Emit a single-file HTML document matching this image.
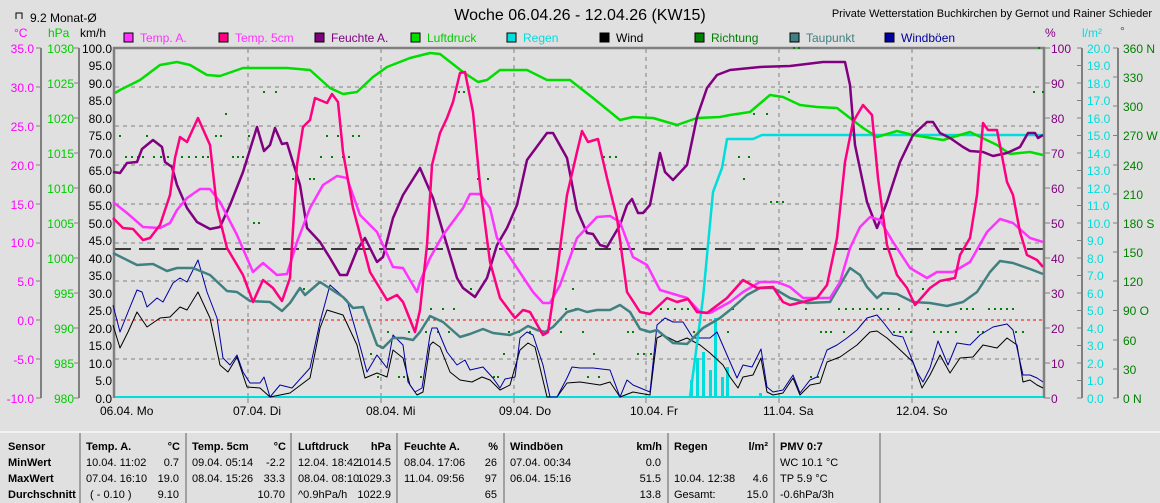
<!DOCTYPE html>
<html><head><meta charset="utf-8"><style>
html,body{margin:0;padding:0;background:#e0e0e0;}
svg{display:block;font-family:"Liberation Sans",sans-serif;}
</style></head><body>
<svg width="1160" height="503" viewBox="0 0 1160 503" xmlns="http://www.w3.org/2000/svg">
<rect width="1160" height="503" fill="#e0e0e0"/>
<!-- title -->
<text x="580" y="20" font-size="16" text-anchor="middle" fill="#000">Woche 06.04.26 - 12.04.26 (KW15)</text>
<text x="1152" y="17" font-size="11" text-anchor="end" fill="#000">Private Wetterstation Buchkirchen by Gernot und Rainer Schieder</text>
<path d="M16 19V13H22V19" fill="none" stroke="#000" stroke-width="1"/>
<text x="30" y="22" font-size="12" fill="#000">9.2 Monat-Ø</text>
<!-- axis headers -->
<text x="14" y="37" font-size="12" fill="#ff00ff">°C</text>
<text x="48" y="37" font-size="12" fill="#00cc00">hPa</text>
<text x="80" y="37" font-size="12" fill="#000">km/h</text>
<text x="1045" y="37" font-size="12" fill="#800080">%</text>
<text x="1082" y="37" font-size="12" fill="#00dddd">l/m²</text>
<text x="1120" y="35" font-size="12" fill="#008000">°</text>
<!-- legend -->
<g font-size="12">
<rect x="124" y="33" width="9" height="9" fill="#ff33ff" stroke="#000"/><text x="140" y="42" fill="#ff33ff">Temp. A.</text>
<rect x="219" y="33" width="9" height="9" fill="#ff0080" stroke="#000"/><text x="235" y="42" fill="#ff33ff">Temp. 5cm</text>
<rect x="315" y="33" width="9" height="9" fill="#800080" stroke="#000"/><text x="331" y="42" fill="#800080">Feuchte A.</text>
<rect x="411" y="33" width="9" height="9" fill="#00dd00" stroke="#000"/><text x="427" y="42" fill="#00cc00">Luftdruck</text>
<rect x="507" y="33" width="9" height="9" fill="#00dddd" stroke="#000"/><text x="523" y="42" fill="#00dddd">Regen</text>
<rect x="600" y="33" width="9" height="9" fill="#000" stroke="#000"/><text x="616" y="42" fill="#000">Wind</text>
<rect x="695" y="33" width="9" height="9" fill="#008000" stroke="#000"/><text x="711" y="42" fill="#008000">Richtung</text>
<rect x="790" y="33" width="9" height="9" fill="#408080" stroke="#000"/><text x="806" y="42" fill="#408080">Taupunkt</text>
<rect x="885" y="33" width="9" height="9" fill="#0000a0" stroke="#000"/><text x="901" y="42" fill="#0000a0">Windböen</text>
</g>
<!-- left axes -->
<g stroke="#808080" stroke-width="2">
<line x1="41" y1="48" x2="41" y2="398"/><line x1="79" y1="48" x2="79" y2="398"/>
</g>
<g font-size="12" fill="#ff00ff" text-anchor="end">
<text x="34" y="53">35.0</text><text x="34" y="92">30.0</text><text x="34" y="131">25.0</text><text x="34" y="170">20.0</text><text x="34" y="209">15.0</text><text x="34" y="247">10.0</text><text x="34" y="286">5.0</text><text x="34" y="325">0.0</text><text x="34" y="364">-5.0</text><text x="34" y="403">-10.0</text>
</g>
<g stroke="#808080" stroke-width="1">
<path d="M36 48H41M36 87H41M36 126H41M36 165H41M36 204H41M36 243H41M36 281H41M36 320H41M36 359H41M36 398H41"/>
<path d="M74 48H79M74 83H79M74 118H79M74 153H79M74 188H79M74 223H79M74 258H79M74 293H79M74 328H79M74 363H79M74 398H79"/>
</g>
<g font-size="12" fill="#00cc00" text-anchor="end">
<text x="74" y="53">1030</text><text x="74" y="88">1025</text><text x="74" y="123">1020</text><text x="74" y="158">1015</text><text x="74" y="193">1010</text><text x="74" y="228">1005</text><text x="74" y="263">1000</text><text x="74" y="298">995</text><text x="74" y="333">990</text><text x="74" y="368">985</text><text x="74" y="403">980</text>
</g>
<g font-size="12" fill="#000" text-anchor="end">
<text x="112" y="53">100.0</text><text x="112" y="70">95.0</text><text x="112" y="88">90.0</text><text x="112" y="105">85.0</text><text x="112" y="123">80.0</text><text x="112" y="140">75.0</text><text x="112" y="158">70.0</text><text x="112" y="175">65.0</text><text x="112" y="193">60.0</text><text x="112" y="210">55.0</text><text x="112" y="228">50.0</text><text x="112" y="245">45.0</text><text x="112" y="263">40.0</text><text x="112" y="280">35.0</text><text x="112" y="298">30.0</text><text x="112" y="315">25.0</text><text x="112" y="333">20.0</text><text x="112" y="350">15.0</text><text x="112" y="368">10.0</text><text x="112" y="385">5.0</text><text x="112" y="403">0.0</text>
</g>
<!-- right axes -->
<g stroke="#808080" stroke-width="2"><line x1="1082" y1="48" x2="1082" y2="398"/><line x1="1118" y1="48" x2="1118" y2="398"/></g>
<g stroke="#808080" stroke-width="1">
<path d="M1044 48H1050M1044 83H1050M1044 118H1050M1044 153H1050M1044 188H1050M1044 223H1050M1044 258H1050M1044 293H1050M1044 328H1050M1044 363H1050M1044 398H1050"/>
<path d="M1077 48H1082M1077 65.5H1082M1077 83H1082M1077 100.5H1082M1077 118H1082M1077 135.5H1082M1077 153H1082M1077 170.5H1082M1077 188H1082M1077 205.5H1082M1077 223H1082M1077 240.5H1082M1077 258H1082M1077 275.5H1082M1077 293H1082M1077 310.5H1082M1077 328H1082M1077 345.5H1082M1077 363H1082M1077 380.5H1082M1077 398H1082"/>
<path d="M1113 48H1118M1113 77H1118M1113 106H1118M1113 135.5H1118M1113 165H1118M1113 194H1118M1113 223H1118M1113 252H1118M1113 281H1118M1113 310.5H1118M1113 340H1118M1113 369H1118M1113 398H1118"/>
</g>
<g font-size="12" fill="#800080">
<text x="1051" y="53">100</text><text x="1051" y="88">90</text><text x="1051" y="123">80</text><text x="1051" y="158">70</text><text x="1051" y="193">60</text><text x="1051" y="228">50</text><text x="1051" y="263">40</text><text x="1051" y="298">30</text><text x="1051" y="333">20</text><text x="1051" y="368">10</text><text x="1051" y="403">0</text>
</g>
<g font-size="12" fill="#00dddd">
<text x="1087" y="53">20.0</text><text x="1087" y="70">19.0</text><text x="1087" y="88">18.0</text><text x="1087" y="105">17.0</text><text x="1087" y="123">16.0</text><text x="1087" y="140">15.0</text><text x="1087" y="158">14.0</text><text x="1087" y="175">13.0</text><text x="1087" y="193">12.0</text><text x="1087" y="210">11.0</text><text x="1087" y="228">10.0</text><text x="1087" y="245">9.0</text><text x="1087" y="263">8.0</text><text x="1087" y="280">7.0</text><text x="1087" y="298">6.0</text><text x="1087" y="315">5.0</text><text x="1087" y="333">4.0</text><text x="1087" y="350">3.0</text><text x="1087" y="368">2.0</text><text x="1087" y="385">1.0</text><text x="1087" y="403">0.0</text>
</g>
<g font-size="12" fill="#008000">
<text x="1123" y="53">360 N</text><text x="1123" y="82">330</text><text x="1123" y="111">300</text><text x="1123" y="140">270 W</text><text x="1123" y="170">240</text><text x="1123" y="199">210</text><text x="1123" y="228">180 S</text><text x="1123" y="257">150</text><text x="1123" y="286">120</text><text x="1123" y="315">90 O</text><text x="1123" y="345">60</text><text x="1123" y="374">30</text><text x="1123" y="403">0 N</text>
</g>
<!-- grid -->
<g stroke="#808080" stroke-width="1" stroke-dasharray="4,4">
<path d="M115 87H1043M115 126H1043M115 165H1043M115 204H1043M115 243H1043M115 281H1043M115 359H1043"/>
<path d="M248 49V398M381 49V398M514 49V398M646 49V398M779 49V398M912 49V398"/>
</g>
<line x1="115" y1="320" x2="1043" y2="320" stroke="#ff0000" stroke-width="1" stroke-dasharray="3,3"/>
<line x1="115" y1="249" x2="1043" y2="249" stroke="#000" stroke-width="1.5" stroke-dasharray="16,8"/>
<!-- frame -->
<g stroke="#808080" stroke-width="2.5" fill="none">
<path d="M114 398V48H1044V398"/>
</g>
<g stroke="#808080" stroke-width="1"><path d="M248 398V403M381 398V403M514 398V403M646 398V403M779 398V403M912 398V403"/></g>
<!-- day labels -->
<g font-size="12" fill="#000">
<text x="100" y="415">06.04.  Mo</text><text x="233" y="415">07.04.  Di</text><text x="366" y="415">08.04.  Mi</text><text x="499" y="415">09.04.  Do</text><text x="630" y="415">10.04.  Fr</text><text x="763" y="415">11.04.  Sa</text><text x="896" y="415">12.04.  So</text>
</g>
<!-- Richtung dots -->
<g fill="#008000">
<rect x="119" y="135" width="2" height="2"/><rect x="146" y="135" width="2" height="2"/>
<rect x="125" y="156" width="2" height="2"/><rect x="131" y="156" width="2" height="2"/><rect x="137" y="156" width="2" height="2"/><rect x="142" y="156" width="2" height="2"/>
<rect x="153" y="156" width="2" height="2"/><rect x="160" y="156" width="2" height="2"/><rect x="167" y="156" width="2" height="2"/><rect x="174" y="156" width="2" height="2"/><rect x="181" y="156" width="2" height="2"/><rect x="188" y="156" width="2" height="2"/><rect x="195" y="156" width="2" height="2"/><rect x="202" y="156" width="2" height="2"/><rect x="207" y="156" width="2" height="2"/>
<rect x="225" y="113" width="2" height="2"/><rect x="215" y="135" width="2" height="2"/><rect x="220" y="135" width="2" height="2"/>
<rect x="232" y="156" width="2" height="2"/><rect x="237" y="156" width="2" height="2"/><rect x="242" y="156" width="2" height="2"/><rect x="248" y="135" width="2" height="2"/>
<rect x="263" y="91" width="2" height="2"/><rect x="275" y="91" width="2" height="2"/><rect x="253" y="222" width="2" height="2"/><rect x="258" y="222" width="2" height="2"/>
<rect x="292" y="178" width="2" height="2"/><rect x="309" y="178" width="2" height="2"/><rect x="313" y="178" width="2" height="2"/><rect x="287" y="67" width="2" height="2"/><rect x="303" y="288" width="2" height="2"/>
<rect x="320" y="156" width="2" height="2"/><rect x="331" y="156" width="2" height="2"/><rect x="342" y="156" width="2" height="2"/><rect x="348" y="156" width="2" height="2"/>
<rect x="326" y="135" width="2" height="2"/><rect x="337" y="135" width="2" height="2"/><rect x="352" y="135" width="2" height="2"/><rect x="358" y="135" width="2" height="2"/>
<rect x="387" y="331" width="2" height="2"/><rect x="370" y="353" width="2" height="2"/><rect x="377" y="376" width="2" height="2"/><rect x="398" y="376" width="2" height="2"/><rect x="403" y="376" width="2" height="2"/><rect x="408" y="331" width="2" height="2"/><rect x="420" y="376" width="2" height="2"/><rect x="425" y="331" width="2" height="2"/>
<rect x="458" y="91" width="2" height="2"/><rect x="463" y="91" width="2" height="2"/><rect x="477" y="178" width="2" height="2"/><rect x="487" y="178" width="2" height="2"/><rect x="470" y="288" width="2" height="2"/>
<rect x="430" y="308" width="2" height="2"/><rect x="442" y="308" width="2" height="2"/><rect x="453" y="308" width="2" height="2"/><rect x="425" y="331" width="2" height="2"/><rect x="437" y="331" width="2" height="2"/><rect x="448" y="331" width="2" height="2"/>
<rect x="503" y="353" width="2" height="2"/><rect x="493" y="376" width="2" height="2"/><rect x="497" y="376" width="2" height="2"/><rect x="508" y="331" width="2" height="2"/><rect x="518" y="331" width="2" height="2"/><rect x="529" y="331" width="2" height="2"/><rect x="540" y="331" width="2" height="2"/><rect x="560" y="331" width="2" height="2"/>
<rect x="565" y="308" width="2" height="2"/><rect x="575" y="308" width="2" height="2"/><rect x="572" y="288" width="2" height="2"/><rect x="582" y="331" width="2" height="2"/><rect x="593" y="353" width="2" height="2"/><rect x="587" y="376" width="2" height="2"/><rect x="598" y="376" width="2" height="2"/>
<rect x="603" y="156" width="2" height="2"/><rect x="609" y="156" width="2" height="2"/><rect x="615" y="156" width="2" height="2"/><rect x="627" y="331" width="2" height="2"/><rect x="632" y="331" width="2" height="2"/>
<rect x="637" y="353" width="2" height="2"/><rect x="643" y="353" width="2" height="2"/><rect x="650" y="353" width="2" height="2"/>
<rect x="660" y="308" width="2" height="2"/><rect x="667" y="308" width="2" height="2"/><rect x="674" y="308" width="2" height="2"/><rect x="681" y="308" width="2" height="2"/><rect x="687" y="308" width="2" height="2"/><rect x="693" y="331" width="2" height="2"/><rect x="727" y="331" width="2" height="2"/><rect x="732" y="308" width="2" height="2"/><rect x="738" y="156" width="2" height="2"/>
<rect x="793" y="47" width="2" height="2"/><rect x="798" y="47" width="2" height="2"/><rect x="788" y="91" width="2" height="2"/><rect x="753" y="113" width="2" height="2"/><rect x="766" y="113" width="2" height="2"/><rect x="738" y="156" width="2" height="2"/><rect x="748" y="156" width="2" height="2"/><rect x="743" y="178" width="2" height="2"/>
<rect x="770" y="201" width="2" height="2"/><rect x="776" y="201" width="2" height="2"/><rect x="782" y="201" width="2" height="2"/>
<rect x="805" y="308" width="2" height="2"/><rect x="838" y="308" width="2" height="2"/><rect x="845" y="308" width="2" height="2"/><rect x="852" y="308" width="2" height="2"/><rect x="859" y="308" width="2" height="2"/><rect x="866" y="308" width="2" height="2"/><rect x="873" y="308" width="2" height="2"/><rect x="880" y="308" width="2" height="2"/><rect x="887" y="308" width="2" height="2"/><rect x="898" y="308" width="2" height="2"/><rect x="927" y="308" width="2" height="2"/>
<rect x="960" y="308" width="2" height="2"/><rect x="966" y="308" width="2" height="2"/><rect x="972" y="308" width="2" height="2"/><rect x="988" y="308" width="2" height="2"/><rect x="994" y="308" width="2" height="2"/><rect x="1000" y="308" width="2" height="2"/><rect x="1006" y="308" width="2" height="2"/><rect x="1012" y="308" width="2" height="2"/>
<rect x="820" y="331" width="2" height="2"/><rect x="825" y="331" width="2" height="2"/><rect x="830" y="331" width="2" height="2"/><rect x="843" y="331" width="2" height="2"/><rect x="893" y="331" width="2" height="2"/><rect x="899" y="331" width="2" height="2"/><rect x="905" y="331" width="2" height="2"/><rect x="910" y="331" width="2" height="2"/>
<rect x="933" y="331" width="2" height="2"/><rect x="940" y="331" width="2" height="2"/><rect x="947" y="331" width="2" height="2"/><rect x="955" y="331" width="2" height="2"/><rect x="977" y="331" width="2" height="2"/><rect x="982" y="331" width="2" height="2"/><rect x="1015" y="331" width="2" height="2"/><rect x="1022" y="331" width="2" height="2"/>
<rect x="922" y="288" width="2" height="2"/><rect x="810" y="376" width="2" height="2"/><rect x="817" y="376" width="2" height="2"/><rect x="1033" y="91" width="2" height="2"/><rect x="1038" y="47" width="2" height="2"/><rect x="1042" y="91" width="2" height="2"/>
</g>
<!-- Regen bars + baseline -->
<g fill="#00dddd">
<rect x="115" y="396" width="928" height="2"/>
<rect x="690" y="380" width="3" height="17"/><rect x="696" y="358" width="3" height="39"/><rect x="702" y="352" width="3" height="45"/><rect x="709" y="370" width="3" height="27"/><rect x="714" y="318" width="3" height="79"/><rect x="721" y="377" width="3" height="20"/><rect x="726" y="367" width="3" height="30"/><rect x="759" y="393" width="3" height="4"/>
</g>
<g fill="none" stroke-linejoin="round">
<polyline stroke="#000" stroke-width="1" points="113,325 120,348 128,332 137,312 147,327 160,318 170,317 180,307 187,310 198,292 210,318 220,365 228,372 237,357 247,387 260,388 270,397 290,393 310,378 320,328 327,310 343,315 357,345 365,378 377,373 387,377 393,350 403,358 410,385 417,395 423,392 430,345 433,342 440,347 450,372 460,380 472,382 482,377 490,380 500,390 510,385 520,350 528,343 535,347 547,397 557,397 567,383 580,382 600,385 610,382 620,397 633,392 650,395 657,338 663,335 677,342 687,338 700,345 710,353 723,365 730,377 738,388 743,377 753,375 761,358 767,392 773,395 783,393 793,378 800,395 810,385 820,383 827,362 840,357 857,345 870,332 877,331 887,338 897,347 913,362 922,388 930,375 940,355 950,373 960,358 973,357 983,345 997,348 1007,338 1017,345 1023,382 1030,380 1037,385 1043,388"/>
<polyline stroke="#0000a0" stroke-width="1" points="113,305 120,332 128,312 137,290 142,292 147,307 157,298 163,302 173,283 180,278 187,282 198,260 207,292 217,318 223,358 230,365 237,355 243,372 250,383 260,383 264,377 270,397 280,385 292,388 310,368 320,322 330,285 347,300 357,335 367,372 377,355 387,368 393,335 403,345 408,382 415,392 422,388 430,335 432,328 437,328 447,352 457,365 465,360 470,370 483,367 493,378 500,388 505,379 515,377 520,338 527,332 533,335 543,365 550,397 557,397 567,378 572,367 580,368 593,368 610,370 620,397 627,380 633,385 650,392 657,325 665,318 673,322 683,322 693,338 710,338 717,332 727,355 737,378 743,365 752,367 761,349 767,387 773,392 783,390 793,375 800,393 810,380 817,377 827,350 837,345 847,338 857,330 867,318 877,315 883,322 893,335 903,337 917,372 923,382 930,368 938,341 948,365 957,343 970,345 980,335 993,327 1007,324 1013,330 1023,375 1030,375 1037,378 1043,382"/>
<polyline stroke="#00dddd" stroke-width="2.5" points="690,397 703,298 713,192 722,168 727,139 753,139 762,135 1043,135"/>
<polyline stroke="#408080" stroke-width="2.5" points="113,253 137,265 153,264 167,271 177,268 193,268 210,275 227,291 237,292 250,301 270,302 282,311 290,303 300,288 305,295 320,282 343,297 353,308 363,307 377,345 383,348 393,338 403,338 413,340 420,332 430,316 443,322 460,337 470,334 483,329 493,333 510,335 520,331 528,326 537,330 545,332 553,327 567,312 578,309 587,312 597,310 610,310 620,305 630,312 640,329 650,332 657,330 673,343 687,344 703,328 720,318 730,310 747,295 760,288 773,288 790,298 807,303 830,302 840,285 850,268 860,275 867,287 877,298 883,293 897,294 913,302 930,303 947,306 963,302 977,292 990,272 1000,261 1013,263 1030,269 1043,274"/>
<polyline stroke="#00dd00" stroke-width="2.5" points="115,93 120,90 140,80 160,65 177,62 190,65 207,75 220,76 243,68 260,68 287,68 310,70 330,88 343,94 357,92 373,77 387,67 410,58 430,53 440,54 463,72 478,82 487,80 500,70 527,70 547,80 570,80 593,98 620,120 633,117 653,118 677,125 697,118 720,117 730,115 750,112 770,95 783,97 800,105 817,107 837,108 850,118 863,128 877,137 897,131 913,135 943,140 970,132 997,145 1010,154 1030,152 1043,155"/>
<polyline stroke="#800080" stroke-width="2.5" points="113,172 120,173 127,163 137,162 142,149 153,140 162,147 165,162 172,167 177,185 187,208 197,222 210,229 220,227 230,205 243,172 257,127 264,151 270,145 275,128 282,144 287,143 300,185 307,228 320,242 330,258 340,275 347,275 357,250 365,238 377,262 383,257 393,218 403,195 420,168 433,198 443,232 457,278 463,288 475,297 487,278 497,245 507,228 517,205 527,160 547,133 553,133 567,158 577,210 587,233 593,234 600,245 607,247 620,225 627,205 632,199 638,213 643,213 650,205 660,153 665,172 673,180 687,165 697,117 707,88 717,75 730,70 760,67 790,66 823,62 845,62 850,85 855,145 867,202 877,228 887,202 900,162 913,135 927,122 933,122 940,133 950,138 963,147 970,151 983,152 993,156 1007,153 1020,147 1028,133 1035,133 1038,138 1043,135"/>
<polyline stroke="#ff33ff" stroke-width="2.5" points="113,202 127,213 143,227 160,228 170,223 177,210 187,198 200,189 210,189 220,202 237,235 253,272 263,263 277,275 287,274 297,242 310,208 323,185 337,176 347,178 360,215 377,232 393,267 403,268 417,292 420,282 430,258 443,235 463,208 470,194 480,194 490,208 497,238 517,268 533,292 543,303 550,303 560,285 577,238 597,217 610,216 620,222 633,257 647,265 660,290 687,298 700,312 710,313 730,302 743,292 760,282 777,282 790,287 803,298 830,298 840,282 850,248 860,227 870,217 880,220 893,242 910,268 927,278 937,272 953,272 970,262 987,232 1000,219 1013,223 1030,238 1043,242"/>
<polyline stroke="#ff0080" stroke-width="2.5" points="113,218 123,228 133,229 143,240 150,238 160,225 170,195 175,158 180,137 187,142 198,118 210,145 217,208 227,248 243,275 253,302 263,280 273,288 282,301 290,278 297,165 303,127 310,120 315,98 327,103 332,94 338,102 343,152 353,208 370,272 387,300 397,295 403,302 415,332 420,310 427,245 432,165 440,133 447,118 453,102 460,73 465,72 473,112 480,185 490,262 500,298 515,318 523,310 530,312 543,335 548,332 557,272 567,195 577,152 582,131 588,142 598,139 607,178 617,218 627,292 640,312 650,314 667,298 677,302 688,299 697,312 707,313 727,298 743,280 757,288 773,287 783,302 790,305 803,302 817,298 827,285 837,238 845,162 853,122 863,105 872,115 878,178 887,245 897,275 907,288 915,305 930,288 940,281 955,278 960,255 970,238 977,195 983,123 988,130 997,130 1007,182 1013,195 1020,232 1027,255 1037,260 1043,267"/>
</g>
<!-- table -->
<line x1="0" y1="432" x2="1160" y2="432" stroke="#f8f8f8" stroke-width="1.5"/>
<g stroke="#a0a0a0" stroke-width="2">
<path d="M80 433V503M186 433V503M291 433V503M397 433V503M504 433V503M668 433V503M774 433V503M880 433V503"/>
</g>
<g font-size="11" fill="#000">
<g font-weight="bold">
<text x="8" y="450">Sensor</text><text x="8" y="466">MinWert</text><text x="8" y="482">MaxWert</text><text x="8" y="498">Durchschnitt</text>
<text x="86" y="450">Temp. A.</text><text x="180" y="450" text-anchor="end">°C</text>
<text x="192" y="450">Temp. 5cm</text><text x="286" y="450" text-anchor="end">°C</text>
<text x="298" y="450">Luftdruck</text><text x="391" y="450" text-anchor="end">hPa</text>
<text x="404" y="450">Feuchte A.</text><text x="498" y="450" text-anchor="end">%</text>
<text x="510" y="450">Windböen</text><text x="662" y="450" text-anchor="end">km/h</text>
<text x="674" y="450">Regen</text><text x="768" y="450" text-anchor="end">l/m²</text>
<text x="780" y="450">PMV 0:7</text>
</g>
<text x="86" y="466">10.04.  11:02</text><text x="179" y="466" text-anchor="end">0.7</text>
<text x="86" y="482">07.04.  16:10</text><text x="179" y="482" text-anchor="end">19.0</text>
<text x="90" y="498">( - 0.10 )</text><text x="179" y="498" text-anchor="end">9.10</text>
<text x="192" y="466">09.04.  05:14</text><text x="285" y="466" text-anchor="end">-2.2</text>
<text x="192" y="482">08.04.  15:26</text><text x="285" y="482" text-anchor="end">33.3</text>
<text x="285" y="498" text-anchor="end">10.70</text>
<text x="298" y="466">12.04.  18:42</text><text x="391" y="466" text-anchor="end">1014.5</text>
<text x="298" y="482">08.04.  08:10</text><text x="391" y="482" text-anchor="end">1029.3</text>
<text x="298" y="498">^0.9hPa/h</text><text x="391" y="498" text-anchor="end">1022.9</text>
<text x="404" y="466">08.04.  17:06</text><text x="497" y="466" text-anchor="end">26</text>
<text x="404" y="482">11.04.  09:56</text><text x="497" y="482" text-anchor="end">97</text>
<text x="497" y="498" text-anchor="end">65</text>
<text x="510" y="466">07.04.  00:34</text><text x="661" y="466" text-anchor="end">0.0</text>
<text x="510" y="482">06.04.  15:16</text><text x="661" y="482" text-anchor="end">51.5</text>
<text x="661" y="498" text-anchor="end">13.8</text>
<text x="674" y="482">10.04.  12:38</text><text x="768" y="482" text-anchor="end">4.6</text>
<text x="674" y="498">Gesamt:</text><text x="768" y="498" text-anchor="end">15.0</text>
<text x="780" y="466">WC 10.1 °C</text><text x="780" y="482">TP 5.9 °C</text><text x="780" y="498">-0.6hPa/3h</text>
</g>
</svg>
</body></html>
